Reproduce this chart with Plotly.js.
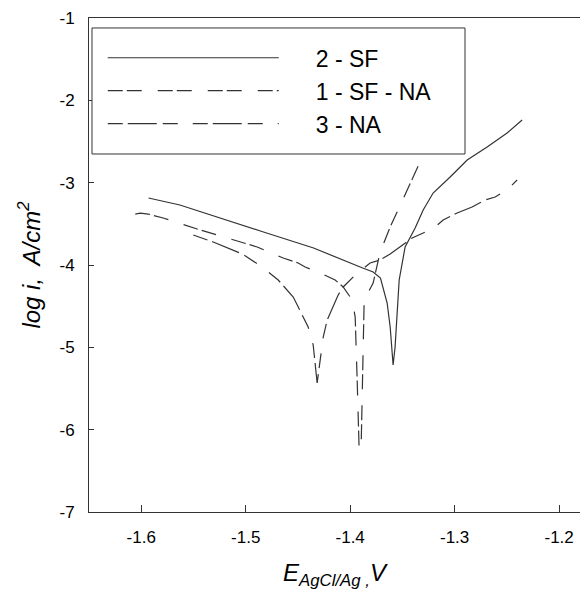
<!DOCTYPE html>
<html>
<head>
<meta charset="utf-8">
<script src="https://cdn.plot.ly/plotly-3.0.1.min.js"></script>
<style>
html,body{margin:0;padding:0;background:#fff;overflow:hidden;}
#chart{width:580px;height:597px;}
</style>
</head>
<body>
<div id="chart"></div>
<script>
// Series: 2 - SF (solid)
var sfX = [-1.593, -1.579, -1.563, -1.483, -1.435, -1.388, -1.378, -1.371, -1.3665, -1.3646, -1.3617, -1.3589, -1.357, -1.355, -1.3531, -1.3474, -1.3378, -1.3301, -1.3206, -1.3043, -1.288, -1.2689, -1.2498, -1.2354];
var sfY = [-3.186, -3.223, -3.271, -3.599, -3.794, -4.037, -4.085, -4.158, -4.389, -4.462, -4.753, -5.215, -4.996, -4.583, -4.182, -3.781, -3.551, -3.332, -3.126, -2.931, -2.725, -2.567, -2.397, -2.239];

// Series: 1 - SF - NA
var sfnaX = [-1.6057, -1.601, -1.5933, -1.579, -1.5464, -1.5273, -1.489, -1.4641, -1.4498, -1.4431, -1.4287, -1.4144, -1.4067, -1.398, -1.3952, -1.3933, -1.3914, -1.3895, -1.3885, -1.3866, -1.378, -1.3713, -1.3617, -1.3502, -1.3397, -1.3301, -1.3139, -1.2995];
var sfnaY = [-3.381, -3.369, -3.381, -3.429, -3.563, -3.636, -3.781, -3.915, -3.976, -4.024, -4.097, -4.182, -4.267, -4.425, -4.632, -5.397, -6.247, -6.211, -5.397, -4.425, -4.219, -3.842, -3.539, -3.211, -2.931, -2.664, -2.30, -2.057];

// Series: 3 - NA
var naX = [-1.5502, -1.5311, -1.5033, -1.4842, -1.4689, -1.4545, -1.4402, -1.4354, -1.4316, -1.4258, -1.422, -1.4115, -1.4067, -1.3952, -1.3809, -1.3713, -1.3617, -1.3493, -1.3407, -1.3301, -1.3187, -1.311, -1.2976, -1.2833, -1.2708, -1.2612, -1.2498, -1.2402];
var naY = [-3.636, -3.721, -3.866, -4.024, -4.182, -4.389, -4.753, -4.972, -5.433, -4.875, -4.668, -4.364, -4.267, -4.122, -3.976, -3.939, -3.866, -3.757, -3.672, -3.611, -3.539, -3.453, -3.369, -3.296, -3.211, -3.174, -3.089, -2.968];

var seriesNames = ['2 - SF', '1 - SF - NA', '3 - NA'];

var xTickVals = [-1.6, -1.5, -1.4, -1.3, -1.2];
var xTickText = ['-1.6', '-1.5', '-1.4', '-1.3', '-1.2'];
var yTickVals = [-7, -6, -5, -4, -3, -2, -1];
var yTickText = ['-7', '-6', '-5', '-4', '-3', '-2', '-1'];

var FONT = 'Liberation Sans, Arial, sans-serif';
var pad = '\u00a0\u00a0\u00a0\u00a0\u00a0';

var traces = [
  {x: sfX, y: sfY, name: pad + seriesNames[0], mode: 'lines', type: 'scatter',
   line: {color: '#333', width: 1.2, dash: 'solid'}},
  {x: sfnaX, y: sfnaY, name: pad + seriesNames[1], mode: 'lines', type: 'scatter',
   line: {color: '#333', width: 1.2, dash: '15px,4px,15px,16px'}},
  {x: naX, y: naY, name: pad + seriesNames[2], mode: 'lines', type: 'scatter',
   line: {color: '#333', width: 1.2, dash: '15px,5px,29px,6px,15px,15px'}}
];

var layout = {
  width: 580, height: 597,
  margin: {l: 89, r: 0, t: 18, b: 85},
  paper_bgcolor: '#fff', plot_bgcolor: '#fff',
  font: {family: FONT, color: '#000', size: 17},
  showlegend: true,
  legend: {
    x: 0.028, xanchor: 'left', y: 0.963, yanchor: 'top',
    bgcolor: 'rgba(0,0,0,0)', borderwidth: 0,
    font: {family: FONT, size: 23, color: '#000'},
    itemwidth: 171, tracegroupgap: 0
  },
  xaxis: {
    range: [-1.65, -1.18], tickmode: 'array', tickvals: xTickVals, ticktext: xTickText,
    showgrid: false, zeroline: false, showline: true, linecolor: '#333', linewidth: 1,
    mirror: true, ticks: 'inside', ticklen: 7, tickcolor: '#333', tickwidth: 1,
    ticklabelstandoff: 10,
    tickfont: {family: FONT, size: 17, color: '#000'},
    title: {text: '<i>E<sub>AgCl/Ag ,</sub>V</i>', font: {family: FONT, size: 24, color: '#000'}, standoff: 17}
  },
  yaxis: {
    range: [-7, -1], tickmode: 'array', tickvals: yTickVals, ticktext: yTickText,
    showgrid: false, zeroline: false, showline: true, linecolor: '#333', linewidth: 1,
    mirror: false, ticks: 'inside', ticklen: 5, tickcolor: '#333', tickwidth: 1,
    ticklabelstandoff: 10,
    tickfont: {family: FONT, size: 17, color: '#000'},
    title: {text: '<i>log i,\u00a0 A/cm<sup>2</sup></i>', font: {family: FONT, size: 24, color: '#000'}, standoff: 12}
  },
  shapes: [
    {type: 'rect', xref: 'paper', yref: 'paper', x0: 0.0061, x1: 0.7658, y0: 0.7247, y1: 0.9798,
     line: {color: '#333', width: 1}, fillcolor: '#fff', layer: 'above'}
  ]
};

Plotly.newPlot('chart', traces, layout, {staticPlot: true, displayModeBar: false});
</script>
</body>
</html>
